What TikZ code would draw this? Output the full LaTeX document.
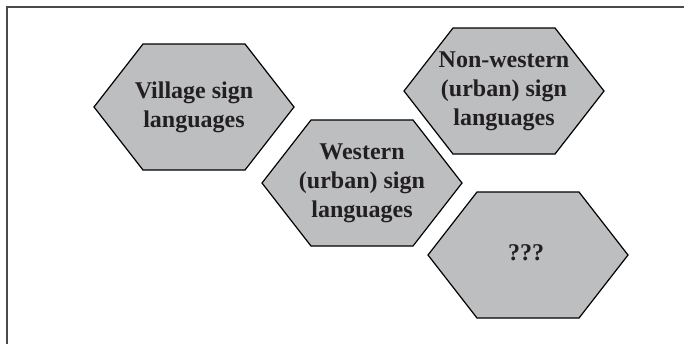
\documentclass[tikz,border=0pt]{standalone}
\usepackage{fontspec}
\setmainfont{Liberation Serif}
\usetikzlibrary{positioning}
\definecolor{hexgray}{HTML}{BDBEC0}
\definecolor{inkdark}{HTML}{231F20}
\definecolor{framegray}{HTML}{4A4A4A}

\begin{document}
\begin{tikzpicture}[x=0.5pt, y=-0.5pt,
    every node/.style={align=center, text=inkdark, font=\fontsize{12}{14.5}\selectfont\bfseries},
    hexa/.pic={\draw[fill=hexgray, draw=black, line width=0.6pt] (-100,0) -- (-51,-63) -- (51,-63) -- (100,0) -- (51,63) -- (-51,63) -- cycle;},
    frameline/.style={draw=framegray, line width=1pt},]

\useasboundingbox (0,0) rectangle (684,344);
\coordinate (corner) at (7,344);
\coordinate (topleft) at (7,6.5);
\coordinate (topright) at (684,6.5);
\draw[frameline] (corner) -- (topleft) -- (topright);

\pic at (194,107) {hexa};
\node (village) at (194,107) {Village sign\\languages};

\pic at (362,183) {hexa};
\node (western) at (362,183) {Western\\(urban) sign\\languages};

\pic at (504,91) {hexa};
\node (nonwestern) at (504,91) {Non-western\\(urban) sign\\languages};

\pic at (528,255) {hexa};
\node (unknown) at (526,253) {???};
\end{tikzpicture}
\end{document}
